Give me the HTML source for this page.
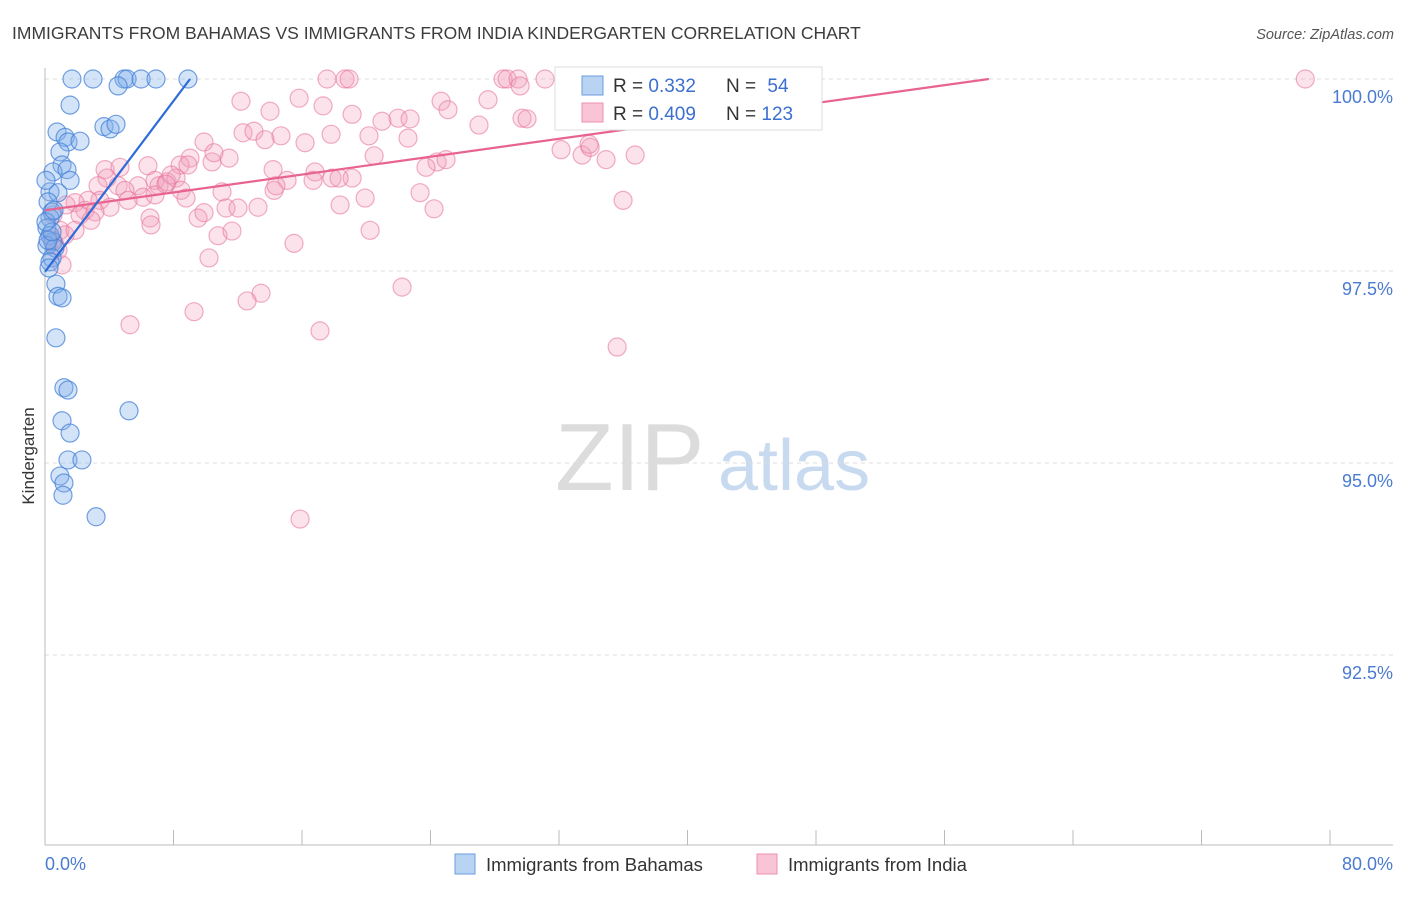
<!DOCTYPE html>
<html><head><meta charset="utf-8"><style>
body{margin:0;background:#fff;font-family:"Liberation Sans",sans-serif;}
svg text{font-family:"Liberation Sans",sans-serif;}
</style></head><body>
<svg id="chart" width="1406" height="892" xmlns="http://www.w3.org/2000/svg">
<text x="12" y="39" font-size="17.5" fill="#3c3c3c">IMMIGRANTS FROM BAHAMAS VS IMMIGRANTS FROM INDIA KINDERGARTEN CORRELATION CHART</text>
<text x="1394" y="39" font-size="14.5" fill="#555" text-anchor="end" font-style="italic">Source: ZipAtlas.com</text>
<text x="555" y="490" font-size="96" fill="#dcdcdc" font-family="Liberation Serif">ZIP</text>
<text x="718" y="490" font-size="72" fill="#c8daf0">atlas</text>
<text transform="translate(34,456) rotate(-90)" font-size="17" fill="#333" text-anchor="middle">Kindergarten</text>
<g id="grid"></g><g id="pts"></g><g id="lines"></g>
<g>
<rect x="555" y="67" width="267" height="63" fill="#fff" stroke="#ddd"/>
<rect x="582" y="76" width="21" height="19" fill="#b9d3f3" stroke="#6b9ce0"/>
<rect x="582" y="103" width="21" height="19" fill="#f9c4d5" stroke="#ec92b0"/>
<text x="613" y="92" font-size="19" fill="#333">R = <tspan fill="#3b6fd0">0.332</tspan></text>
<text x="726" y="92" font-size="19" fill="#333">N = <tspan fill="#3b6fd0" dx="6">54</tspan></text>
<text x="613" y="120" font-size="19" fill="#333">R = <tspan fill="#3b6fd0">0.409</tspan></text>
<text x="726" y="120" font-size="19" fill="#333">N = <tspan fill="#3b6fd0">123</tspan></text>
</g>
<g>
<rect x="455" y="854" width="20" height="20" fill="#b9d3f3" stroke="#6b9ce0"/>
<text x="486" y="871" font-size="18.5" fill="#333">Immigrants from Bahamas</text>
<rect x="757" y="854" width="20" height="20" fill="#f9c4d5" stroke="#ec92b0"/>
<text x="788" y="871" font-size="18.5" fill="#333">Immigrants from India</text>
</g>
<text x="45" y="870" font-size="18" fill="#4a7bd0">0.0%</text>
<text x="1393" y="870" font-size="18" fill="#4a7bd0" text-anchor="end">80.0%</text>
</svg>
<script>
const yTicks=[100,97.5,95,92.5];
const yTickLabels=["100.0%","97.5%","95.0%","92.5%"];
const xTicks=[0,8,16,24,32,40,48,56,64,72,80];
const bahamas=[[1.68,100],[2.99,100],[4.92,100],[5.11,100],[5.98,100],[6.91,100],[8.90,100],[4.55,99.91],[1.56,99.66],[0.75,99.31],[1.25,99.24],[1.43,99.18],[2.18,99.19],[3.67,99.38],[4.05,99.35],[4.42,99.41],[0.93,99.05],[1.06,98.88],[0.50,98.79],[1.37,98.82],[1.56,98.68],[0.31,98.53],[0.81,98.52],[0.19,98.40],[0.44,98.27],[0.31,98.19],[0.12,98.06],[0.31,97.96],[0.50,97.88],[0.12,97.83],[0.62,97.80],[0.44,97.67],[0.31,97.62],[0.68,97.33],[0.81,97.17],[1.06,97.15],[0.68,96.63],[1.18,95.98],[1.43,95.95],[5.23,95.68],[1.06,95.55],[1.56,95.39],[1.43,95.04],[2.30,95.04],[0.93,94.83],[1.18,94.74],[1.12,94.58],[3.18,94.30],[0.19,97.90],[0.44,98.01],[0.06,98.14],[0.56,98.29],[0.25,97.54],[0.06,98.68]];
const india=[[17.56,100],[18.68,100],[18.93,100],[28.52,100],[28.77,100],[29.45,100],[31.13,100],[41.59,100],[78.46,100],[12.20,99.71],[15.82,99.75],[14.01,99.58],[17.31,99.65],[19.12,99.54],[24.66,99.71],[25.09,99.60],[27.58,99.73],[29.58,99.91],[29.70,99.49],[30.01,99.48],[20.98,99.45],[21.98,99.49],[22.73,99.48],[27.02,99.40],[12.33,99.30],[13.01,99.32],[13.70,99.21],[14.69,99.26],[16.19,99.17],[17.81,99.28],[20.17,99.26],[20.49,99.00],[22.60,99.23],[9.90,99.18],[9.03,98.97],[10.40,98.92],[11.46,98.97],[10.52,99.04],[32.13,99.08],[33.44,99.01],[33.94,99.11],[34.93,98.95],[36.74,99.01],[33.87,99.15],[24.41,98.92],[24.97,98.95],[23.72,98.85],[3.74,98.82],[4.67,98.85],[6.41,98.87],[8.41,98.88],[14.20,98.82],[15.07,98.68],[16.81,98.79],[17.87,98.71],[19.12,98.71],[18.31,98.71],[16.69,98.68],[3.86,98.71],[3.30,98.61],[4.55,98.61],[5.79,98.61],[6.85,98.68],[7.10,98.61],[7.60,98.66],[8.16,98.71],[8.47,98.55],[4.98,98.55],[3.42,98.42],[2.68,98.42],[1.87,98.39],[2.49,98.29],[4.05,98.33],[6.10,98.46],[5.17,98.42],[6.85,98.49],[8.78,98.45],[11.02,98.53],[11.27,98.32],[12.02,98.32],[13.26,98.33],[14.26,98.55],[18.37,98.36],[19.93,98.45],[23.35,98.52],[24.22,98.31],[35.99,98.42],[2.18,98.23],[3.11,98.27],[6.54,98.19],[6.60,98.10],[9.53,98.19],[9.90,98.26],[10.77,97.96],[11.64,98.02],[15.50,97.86],[20.24,98.03],[0.93,98.03],[1.25,97.97],[0.62,97.84],[1.06,97.58],[0.81,97.77],[0.44,97.90],[10.21,97.67],[13.45,97.21],[12.58,97.11],[9.28,96.97],[5.29,96.80],[17.12,96.72],[22.23,97.29],[35.62,96.51],[15.88,94.27],[8.90,98.88],[7.85,98.75],[7.53,98.63],[14.38,98.61],[0.50,98.23],[1.31,98.36],[2.86,98.16],[1.87,98.03]];
const bahamasTrend=[97.49,0.278];
const indiaTrend=[98.29,0.0291];

const NS="http://www.w3.org/2000/svg";
const X=v=>45+v*(1285/80);
const Y=v=>79+(100-v)*76.8;
function mk(tag,attrs,parent){const e=document.createElementNS(NS,tag);for(const k in attrs)e.setAttribute(k,attrs[k]);parent.appendChild(e);return e;}
const grid=document.getElementById('grid');
yTicks.forEach((t,i)=>{
  const l=mk('line',{x1:45,x2:1393,y1:Y(t),y2:Y(t),stroke:'#ddd','stroke-dasharray':'4,4'},grid);
  
  
  const tx=mk('text',{x:1393,y:Y(t)+24,'font-size':18,fill:'#4a7bd0','text-anchor':'end'},grid);
  tx.textContent=yTickLabels[i];
  
  
});
const ax=mk('line',{x1:45,x2:45,y1:68,y2:845,stroke:'#bbb'},grid);


const bx=mk('line',{x1:45,x2:1393,y1:845,y2:845,stroke:'#bbb'},grid);


xTicks.forEach(t=>{
  const l=mk('line',{x1:X(t),x2:X(t),y1:830,y2:845,stroke:'#bbb'},grid);
  
  
});
const pts=document.getElementById('pts');
india.forEach(d=>{
  const c=mk('circle',{cx:X(d[0]),cy:Y(d[1]),r:9,fill:'rgba(243,160,188,0.3)',stroke:'rgba(232,120,158,0.6)','stroke-width':1.2},pts);
  
  
});
bahamas.forEach(d=>{
  const c=mk('circle',{cx:X(d[0]),cy:Y(d[1]),r:9,fill:'rgba(130,175,235,0.35)',stroke:'rgba(70,130,215,0.75)','stroke-width':1.2},pts);
  
  
});
const lines=document.getElementById('lines');
function trend(tr,color,name){
  const xEnd=(100-tr[0])/tr[1];
  const l=mk('line',{x1:X(0),y1:Y(tr[0]),x2:X(xEnd),y2:Y(100),stroke:color,'stroke-width':2.2},lines);
  
  
}
trend(indiaTrend,'#e8648e','india-trend-line');
trend(bahamasTrend,'#2d6bd6','bahamas-trend-line');
</script>
</body></html>
